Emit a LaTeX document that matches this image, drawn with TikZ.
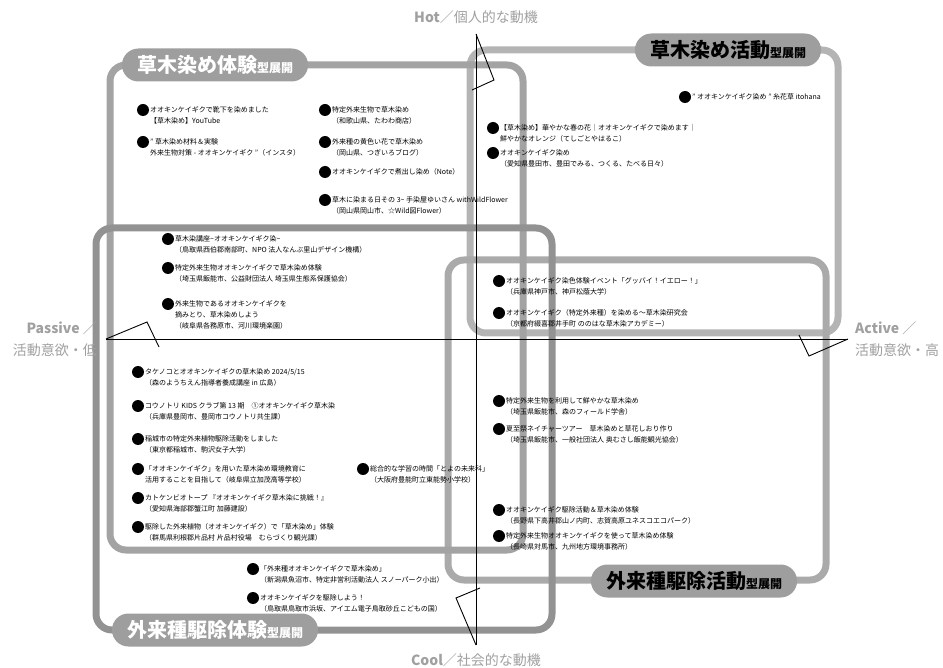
\documentclass[tikz,border=0pt]{standalone}
\usepackage{fontspec}
\setmainfont{Noto Sans CJK JP}
\usetikzlibrary{shapes.misc}
\definecolor{fA}{HTML}{A3A3A3}
\definecolor{fB}{HTML}{B4B4B4}
\definecolor{fC}{HTML}{929292}
\definecolor{fD}{HTML}{AAAAAA}
\definecolor{pillc}{HTML}{9E9E9E}
\definecolor{labc}{HTML}{A0A0A0}
\tikzset{
  frame/.style={line width=7pt, rounded corners=16pt},
  pill/.style={rounded rectangle, fill=pillc, inner xsep=12pt, inner ysep=0pt, minimum height=33pt},
  entry/.style={inner sep=0pt, align=left, anchor=north west, font=\fontsize{7}{11}\selectfont},
  dot/.style={circle, fill=black, inner sep=0pt, minimum size=12pt},
  axisline/.style={line width=0.9pt, black},
  axlab/.style={text=labc, inner sep=0pt, font=\fontsize{14}{22}\selectfont}
}
\newcommand\entry[4]{%
  \node[dot] (#1d) at ({#2-7},#3) {};
  \node[entry] (#1) at (#2,{#3-4}) {#4};
}
\newcommand\ttl[2]{{\fontsize{20}{20}\selectfont\bfseries #1}{\fontsize{12}{12}\selectfont\bfseries #2}}
\begin{document}
\begin{tikzpicture}[x=1pt,y=-1pt]
\useasboundingbox (0,0) rectangle (943,668);
% frames
\draw[frame,fB] (470,50) rectangle (838,333);
\draw[frame,fD] (448,260) rectangle (826,580);
\draw[frame,fA] (110,65) rectangle (523,550);
\draw[frame,fC] (96,228) rectangle (552,630);
% title pills
\node[pill,text=white] (tA) at (215,65) {\ttl{草木染め体験}{型展開}};
\node[pill,text=black] (tB) at (728,50) {\ttl{草木染め活動}{型展開}};
\node[pill,text=white] (tC) at (215,630) {\ttl{外来種駆除体験}{型展開}};
\node[pill,text=black] (tD) at (694,581) {\ttl{外来種駆除活動}{型展開}};
% axes
\coordinate (top) at (476,34);
\coordinate (bot) at (476,645);
\coordinate (lft) at (106,339);
\coordinate (rgt) at (848,339);
\coordinate (t1) at (494,80);
\coordinate (t2) at (472,90);
\coordinate (b1) at (456,598);
\coordinate (b2) at (480,588);
\coordinate (l1) at (147,322);
\coordinate (l2) at (159,347);
\coordinate (r1) at (809,356);
\coordinate (r2) at (799,335);
\draw[axisline] (top) -- (bot);
\draw[axisline] (lft) -- (rgt);
\draw[axisline] (top) -- (t1) -- (t2);
\draw[axisline] (bot) -- (b1) -- (b2);
\draw[axisline] (lft) -- (l1) -- (l2);
\draw[axisline] (rgt) -- (r1) -- (r2);
% axis labels
\node[axlab] (hot) at (476,17) {\textbf{Hot}／個人的な動機};
\node[axlab] (cool) at (476,660) {\textbf{Cool}／社会的な動機};
\node[axlab, anchor=east, align=right] (pas) at (97,339) {\textbf{Passive} ／\\活動意欲・低};
\node[axlab, anchor=west, align=left] (act) at (855,339) {\textbf{Active} ／\\活動意欲・高};
% entries: top-left
\entry{a1}{150}{110}{オオキンケイギクで靴下を染めました\\【草木染め】YouTube}
\entry{a2}{150}{142}{” 草木染め材料＆実験\\外来生物対策 - オオキンケイギク ”（インスタ）}
\entry{a3}{332}{110}{特定外来生物で草木染め\\（和歌山県、たわわ商店）}
\entry{a4}{332}{142}{外来種の黄色い花で草木染め\\（岡山県、つぎいろブログ）}
\entry{a5}{332}{172}{オオキンケイギクで煮出し染め（Note）}
\entry{a6}{332}{200}{草木に染まる日その 3\textasciitilde{} 手染屋ゆいさん withWildFlower\\（岡山県岡山市、☆Wild図Flower）}
% top-right
\entry{b1}{692}{97}{” オオキンケイギク染め ” 糸花草 itohana}
\entry{b2}{500}{128}{【草木染め】華やかな春の花｜オオキンケイギクで染めます｜\\鮮やかなオレンジ（てしごとやはるこ）}
\entry{b3}{500}{153}{オオキンケイギク染め\\（愛知県豊田市、豊田でみる、つくる、たべる日々）}
% middle-left
\entry{c1}{175}{239}{草木染講座\textasciitilde{}オオキンケイギク染\textasciitilde{}\\（鳥取県西伯郡南部町、NPO 法人なんぶ里山デザイン機構）}
\entry{c2}{175}{268}{特定外来生物オオキンケイギクで草木染め体験\\（埼玉県飯能市、公益財団法人 埼玉県生態系保護協会）}
\entry{c3}{175}{304}{外来生物であるオオキンケイギクを\\摘みとり、草木染めしよう\\（岐阜県各務原市、河川環境楽園）}
% middle-right
\entry{d1}{506}{281}{オオキンケイギク染色体験イベント「グッバイ！イエロー！」\\（兵庫県神戸市、神戸松蔭大学）}
\entry{d2}{506}{313}{オオキンケイギク（特定外来種）を染める～草木染研究会\\（京都府綴喜郡井手町 ののはな草木染アカデミー）}
% bottom-left
\entry{e1}{145}{372}{タケノコとオオキンケイギクの草木染め 2024/5/15\\（森のようちえん指導者養成講座 in 広島）}
\entry{e2}{145}{406}{コウノトリ KIDS クラブ第 13 期　①オオキンケイギク草木染\\（兵庫県豊岡市、豊岡市コウノトリ共生課）}
\entry{e3}{145}{439}{稲城市の特定外来植物駆除活動をしました\\（東京都稲城市、駒沢女子大学）}
\entry{e4}{145}{469}{「オオキンケイギク」を用いた草木染め環境教育に\\活用することを目指して（岐阜県立加茂高等学校）}
\entry{e5}{145}{498}{カトケンビオトープ 『オオキンケイギク草木染に挑戦！』\\（愛知県海部郡蟹江町 加藤建設）}
\entry{e6}{145}{527}{駆除した外来植物（オオキンケイギク）で「草木染め」体験\\（群馬県利根郡片品村 片品村役場　むらづくり観光課）}
\entry{e7}{370}{469}{総合的な学習の時間「とよの未来科」\\（大阪府豊能町立東能勢小学校）}
% bottom-right
\entry{f1}{506}{401}{特定外来生物を利用して鮮やかな草木染め\\（埼玉県飯能市、森のフィールド学舎）}
\entry{f2}{506}{429}{夏至祭ネイチャーツアー　草木染めと草花しおり作り\\（埼玉県飯能市、一般社団法人 奥むさし飯能観光協会）}
\entry{f3}{506}{510}{オオキンケイギク駆除活動＆草木染め体験\\（長野県下高井郡山ノ内町、志賀高原ユネスコエコパーク）}
\entry{f4}{506}{536}{特定外来生物オオキンケイギクを使って草木染め体験\\（長崎県対馬市、九州地方環境事務所）}
% bottom
\entry{g1}{260}{569}{「外来種オオキンケイギクで草木染め」\\（新潟県魚沼市、特定非営利活動法人 スノーパーク小出）}
\entry{g2}{260}{598}{オオキンケイギクを駆除しよう！\\（鳥取県鳥取市浜坂、アイエム電子鳥取砂丘こどもの国）}
\end{tikzpicture}
\end{document}
